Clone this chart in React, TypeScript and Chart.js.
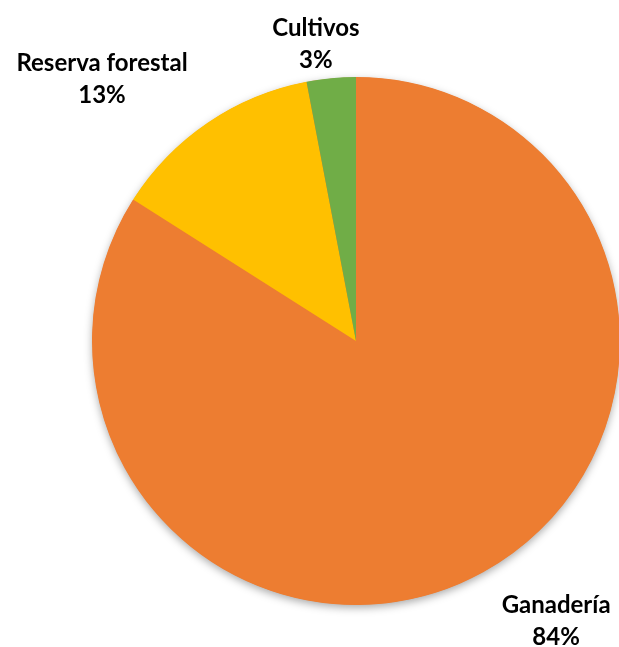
import React, { useEffect, useRef } from "react";
import { Chart, registerables } from "chart.js";

Chart.register(...registerables);

const categories = ["Ganadería", "Reserva forestal", "Cultivos"];
const values = [84, 13, 3];
const percentLabels = ["84%", "13%", "3%"];
const colors = ["#ED7D31", "#FFC000", "#70AD47"];
// label anchor offsets relative to the pie centre, in units of the outer radius
const labelOffsets = [
  [0.758, 1.061],
  [-0.962, -0.994],
  [-0.152, -1.125],
];

const FONT = "Lato";

export default function App() {
  const ref = useRef<HTMLCanvasElement | null>(null);

  useEffect(() => {
    document.body.style.margin = "0";
    document.body.style.overflow = "hidden";
    if (!ref.current) return;

    const shadowPlugin = {
      id: "pieShadow",
      beforeDatasetsDraw(chart: any) {
        const meta = chart.getDatasetMeta(0);
        const arc = meta.data[0];
        if (!arc) return;
        const { x, y, outerRadius } = arc.getProps(["x", "y", "outerRadius"], true);
        const ctx = chart.ctx;
        ctx.save();
        ctx.shadowColor = "rgba(0,0,0,0.35)";
        ctx.shadowBlur = 9;
        ctx.shadowOffsetX = 0;
        ctx.shadowOffsetY = 3;
        ctx.fillStyle = "#ED7D31";
        ctx.beginPath();
        ctx.arc(x, y, outerRadius - 0.5, 0, Math.PI * 2);
        ctx.fill();
        ctx.restore();
      },
    };

    const labelPlugin = {
      id: "outsideLabels",
      afterDatasetsDraw(chart: any) {
        const meta = chart.getDatasetMeta(0);
        const ctx = chart.ctx;
        ctx.save();
        ctx.fillStyle = "#000";
        ctx.textAlign = "center";
        ctx.textBaseline = "alphabetic";
        ctx.font = `bold 24px ${FONT}`;
        meta.data.forEach((arc: any, i: number) => {
          const { x, y, outerRadius } = arc.getProps(["x", "y", "outerRadius"], true);
          const lx = x + outerRadius * labelOffsets[i][0];
          const ly = y + outerRadius * labelOffsets[i][1];
          ctx.fillText(categories[i], lx, ly - 16 + 8);
          ctx.fillText(percentLabels[i], lx, ly + 16 + 8);
        });
        ctx.restore();
      },
    };

    const chart = new Chart(ref.current, {
      type: "pie",
      data: {
        labels: categories,
        datasets: [
          {
            data: values,
            backgroundColor: colors,
            borderWidth: 0,
          },
        ],
      },
      options: {
        animation: false,
        responsive: false,
        maintainAspectRatio: false,
        layout: { padding: { left: 92, right: 10, top: 77, bottom: 42 } },
        plugins: {
          legend: { display: false },
          tooltip: { enabled: false },
        },
      },
      plugins: [shadowPlugin, labelPlugin],
    });
    return () => chart.destroy();
  }, []);

  return (
    <div style={{ position: "absolute", left: 0, top: 0, width: 619, height: 647, overflow: "hidden", background: "#fff" }}>
      <canvas ref={ref} width={630} height={647} style={{ width: 630, height: 647, display: "block" }} />
    </div>
  );
}
